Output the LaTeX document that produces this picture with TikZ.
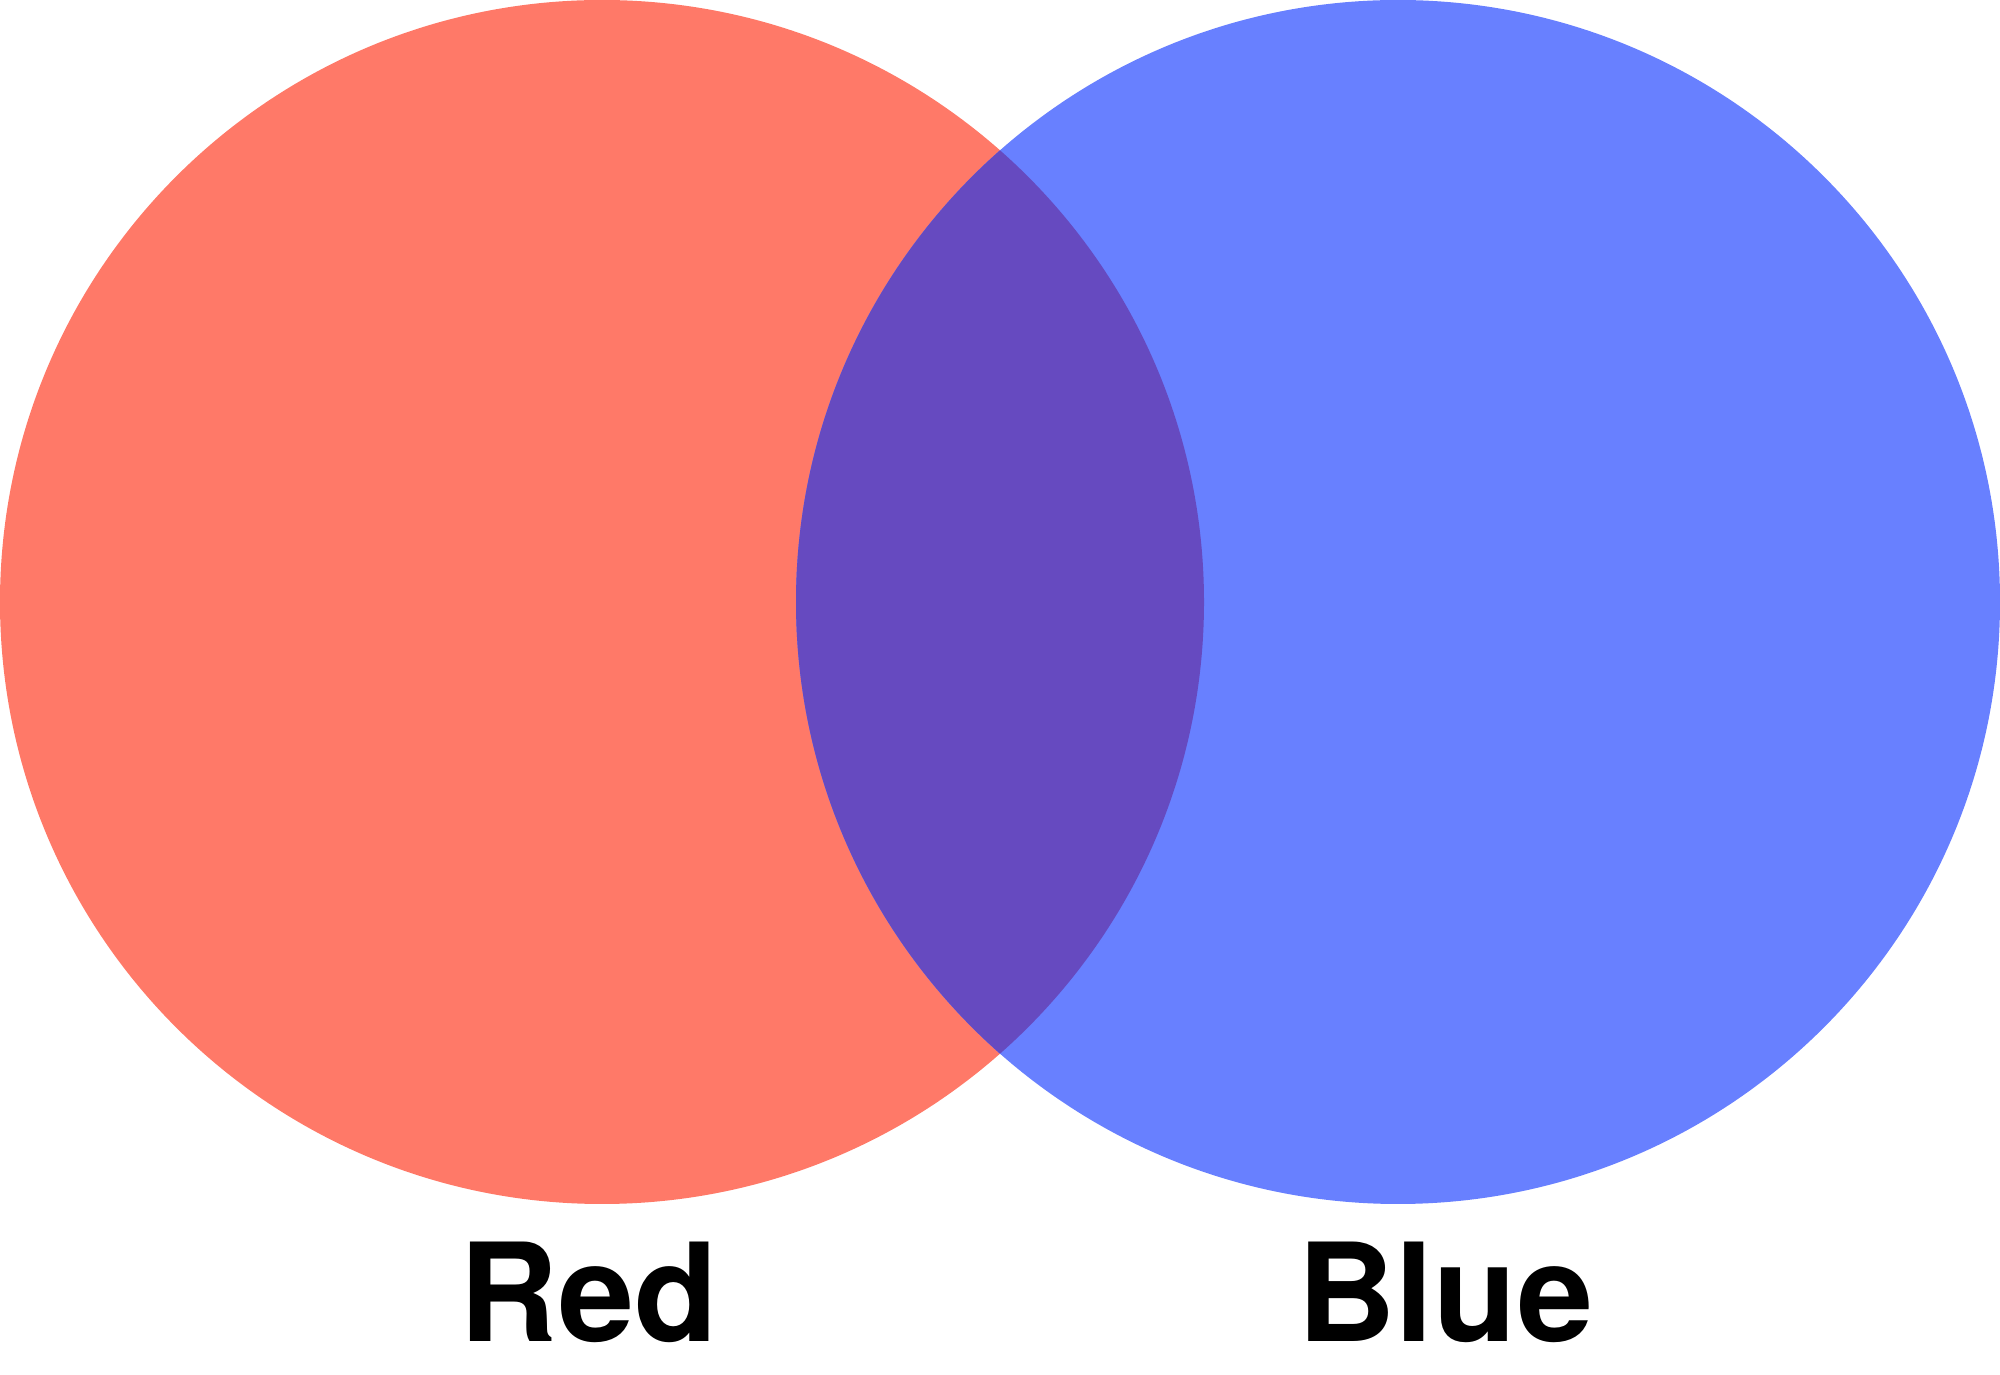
\documentclass[tikz,border=0pt]{standalone}
\usepackage{fontspec}
\setmainfont{TeX Gyre Heros}
\definecolor{redc}{RGB}{255,121,104}
\definecolor{bluec}{RGB}{104,128,255}
\definecolor{overc}{RGB}{102,74,192}
\begin{document}
\begin{tikzpicture}[x=1pt,y=1pt,
  lbl/.style={anchor=base,inner sep=0pt,font=\fontsize{136.5}{140}\selectfont\bfseries}]
\useasboundingbox (0,0) rectangle (2000,1374);
\fill[redc] (602,772) circle[radius=602];
\fill[bluec] (1398,772) circle[radius=602];
\begin{scope}
\clip (602,772) circle[radius=602];
\fill[overc] (1398,772) circle[radius=602];
\end{scope}
\node[lbl] (red) at (588.5,33) {Red};
\node[lbl] (blue) at (1445,33) {Blue};
\end{tikzpicture}
\end{document}
